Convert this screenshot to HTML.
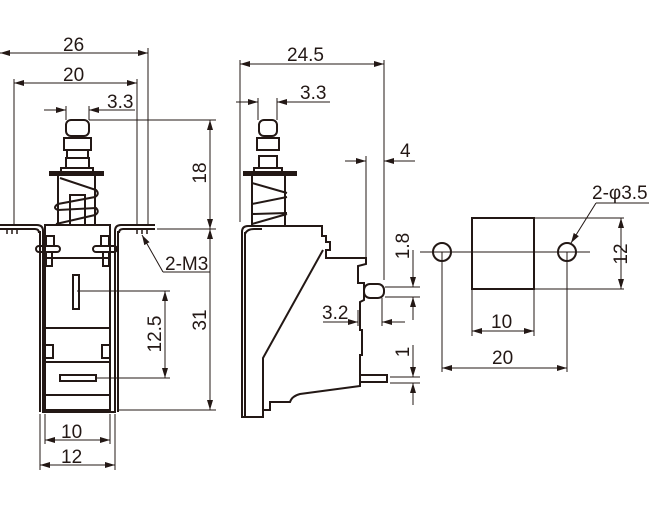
<!DOCTYPE html>
<html><head><meta charset="utf-8"><style>
html,body{margin:0;padding:0;background:#fff}
svg{display:block}
text{font-family:"Liberation Sans",Arial,sans-serif;font-size:19px;fill:#231815}
</style></head><body>
<svg width="649" height="517" viewBox="0 0 649 517" xmlns="http://www.w3.org/2000/svg">
<defs>
<marker id="a" viewBox="0 0 10 6" refX="10" refY="3" markerWidth="10" markerHeight="6" orient="auto-start-reverse" markerUnits="userSpaceOnUse"><path d="M0,0 L10,3 L0,6 z" fill="#231815"/></marker>
</defs>
<g stroke="#231815" fill="none">
<g stroke-width="1">
<line x1="0" y1="53" x2="148" y2="53" marker-end="url(#a)"/>
<line x1="0" y1="53" x2="20" y2="53" marker-start="url(#a)"/>
<line x1="148" y1="48" x2="148" y2="226"/>
<line x1="14" y1="83" x2="137" y2="83" marker-start="url(#a)" marker-end="url(#a)"/>
<line x1="14" y1="79" x2="14" y2="226"/>
<line x1="137" y1="79" x2="137" y2="226"/>
<line x1="44" y1="110" x2="66" y2="110" marker-end="url(#a)"/>
<line x1="89" y1="110" x2="135" y2="110" marker-start="url(#a)"/>
<line x1="66" y1="106" x2="66" y2="120"/>
<line x1="89" y1="106" x2="89" y2="120"/>
<line x1="89" y1="120" x2="216" y2="120"/>
<line x1="157" y1="229" x2="216" y2="229"/>
<line x1="117" y1="410" x2="216" y2="410"/>
<line x1="210" y1="120" x2="210" y2="229" marker-start="url(#a)" marker-end="url(#a)"/>
<line x1="210" y1="229" x2="210" y2="410" marker-start="url(#a)" marker-end="url(#a)"/>
<line x1="77" y1="291" x2="170" y2="291"/>
<line x1="95" y1="378" x2="170" y2="378"/>
<line x1="165" y1="291" x2="165" y2="378" marker-start="url(#a)" marker-end="url(#a)"/>
<line x1="142" y1="235" x2="163" y2="272" marker-start="url(#a)"/>
<line x1="163" y1="272" x2="210" y2="272"/>
<line x1="40" y1="414" x2="40" y2="470"/>
<line x1="45" y1="414" x2="45" y2="444"/>
<line x1="110" y1="414" x2="110" y2="444"/>
<line x1="115" y1="414" x2="115" y2="470"/>
<line x1="45" y1="440" x2="110" y2="440" marker-start="url(#a)" marker-end="url(#a)"/>
<line x1="40" y1="465" x2="115" y2="465" marker-start="url(#a)" marker-end="url(#a)"/>
</g>
<g stroke-width="2">
<rect x="66" y="120" width="23" height="16" rx="5"/>
<rect x="64" y="138" width="27" height="12"/>
<line x1="67" y1="150" x2="67" y2="158"/><line x1="88" y1="150" x2="88" y2="158"/>
<rect x="66" y="158" width="23" height="10"/>
<rect x="61" y="168" width="32" height="4"/>
<rect x="50" y="172" width="53" height="3" fill="#231815"/>
<line x1="58" y1="176" x2="58" y2="225"/><line x1="95" y1="176" x2="95" y2="225"/>
<rect x="70" y="195" width="15" height="30"/>
<path d="M60,178 L96,190 Q100,194 95,197 L58,204 Q52,208 58,210 L96,208 Q100,212 95,215 L56,224"/>
<path d="M0,225 L37,225 Q43,225 43,231 L43,412 L115,412 L115,231 Q115,225 121,225 L155,225"/>
<path d="M0,229 L35,229 Q39,229 39,233 M155,229 L123,229 Q119,229 119,233"/>
<line x1="40" y1="231" x2="40" y2="412"/>
<line x1="118" y1="231" x2="118" y2="412"/>
<rect x="45" y="225" width="65" height="185"/>
<line x1="45" y1="258" x2="110" y2="258"/>
<line x1="45" y1="328" x2="110" y2="328"/>
<line x1="45" y1="362" x2="110" y2="362"/>
<line x1="45" y1="395" x2="110" y2="395"/>
<rect x="36" y="246" width="24" height="6" rx="3"/>
<rect x="93" y="246" width="24" height="6" rx="3"/>
<rect x="46" y="236" width="8" height="10"/><rect x="101" y="236" width="8" height="10"/>
<rect x="46" y="252" width="6" height="14"/><rect x="103" y="252" width="6" height="14"/>
<rect x="73" y="275" width="6" height="34"/>
<rect x="45" y="345" width="8" height="13"/><rect x="102" y="345" width="8" height="13"/>
<rect x="60" y="375" width="36" height="6"/>
<line x1="60" y1="410" x2="92" y2="410"/>
<path d="M7,230 v4 M12,230 v4 M17,230 v4 M137,230 v4 M142,230 v4 M147,230 v4" stroke-width="1.5"/>
</g>
<g stroke-width="1">
<line x1="240" y1="64" x2="384" y2="64" marker-start="url(#a)" marker-end="url(#a)"/>
<line x1="240" y1="60" x2="240" y2="222"/>
<line x1="384" y1="60" x2="384" y2="280"/>
<line x1="236" y1="102" x2="258" y2="102" marker-end="url(#a)"/>
<line x1="277" y1="102" x2="330" y2="102" marker-start="url(#a)"/>
<line x1="258" y1="98" x2="258" y2="120"/>
<line x1="277" y1="98" x2="277" y2="120"/>
<line x1="345" y1="161" x2="366" y2="161" marker-end="url(#a)"/>
<line x1="384" y1="161" x2="415" y2="161" marker-start="url(#a)"/>
<line x1="366" y1="156" x2="366" y2="258"/>
<line x1="385" y1="287" x2="420" y2="287"/>
<line x1="385" y1="297" x2="420" y2="297"/>
<line x1="413" y1="250" x2="413" y2="287" marker-end="url(#a)"/>
<line x1="413" y1="297" x2="413" y2="320" marker-start="url(#a)"/>
<line x1="420" y1="252" x2="428" y2="252"/>
<line x1="323" y1="322" x2="358" y2="322" marker-end="url(#a)"/>
<line x1="382" y1="322" x2="405" y2="322" marker-start="url(#a)"/>
<line x1="358" y1="310" x2="358" y2="326"/>
<line x1="382" y1="298" x2="382" y2="326"/>
<line x1="390" y1="377" x2="420" y2="377"/>
<line x1="390" y1="383" x2="420" y2="383"/>
<line x1="413" y1="345" x2="413" y2="377" marker-end="url(#a)"/>
<line x1="413" y1="383" x2="413" y2="405" marker-start="url(#a)"/>
</g>
<g stroke-width="2">
<rect x="259" y="120" width="18" height="16" rx="5"/>
<rect x="257" y="138" width="22" height="12"/>
<rect x="259" y="156" width="18" height="12"/>
<rect x="254" y="168" width="28" height="4"/>
<rect x="244" y="172" width="52" height="3" fill="#231815"/>
<line x1="252" y1="176" x2="252" y2="225"/><line x1="285" y1="176" x2="285" y2="225"/>
<path d="M252,183 L287,193 M252,204 L287,197 M252,214 L287,213 M252,224 L287,214"/>
<path d="M242,417 L242,232 Q242,226 248,226 L322,226 L322,236 L326,236 L326,242 L330,242 L330,250 L326,250 L326,258 L366,258 L366,264 L358,266 L358,283 L364,283 L364,300 L360,302 L360,330 L362,330 L362,355 L360,355 L360,386 L300,394 Q292,396 290,402 L270,402 L270,410 L263,410 L263,417 Z"/>
<line x1="245" y1="232" x2="245" y2="417"/>
<path d="M245,234 Q247,229 254,229 L262,229"/>
<path d="M323,250 L263,358 L263,417"/>
<rect x="364" y="284" width="20" height="14" rx="6"/>
<rect x="360" y="375" width="27" height="7"/>
</g>
<g stroke-width="1">
<line x1="420" y1="252" x2="590" y2="252"/>
<line x1="442" y1="252" x2="442" y2="372"/>
<line x1="567" y1="252" x2="567" y2="372"/>
<line x1="442" y1="368" x2="567" y2="368" marker-start="url(#a)" marker-end="url(#a)"/>
<line x1="472" y1="289" x2="472" y2="336"/>
<line x1="534" y1="289" x2="534" y2="336"/>
<line x1="472" y1="331" x2="534" y2="331" marker-start="url(#a)" marker-end="url(#a)"/>
<line x1="534" y1="218" x2="624" y2="218"/>
<line x1="534" y1="289" x2="624" y2="289"/>
<line x1="621" y1="218" x2="621" y2="289" marker-start="url(#a)" marker-end="url(#a)"/>
<line x1="571" y1="243" x2="596" y2="203" marker-start="url(#a)"/>
<line x1="596" y1="203" x2="649" y2="203"/>
</g>
<g stroke-width="2">
<circle cx="442" cy="252" r="9"/>
<circle cx="567" cy="252" r="9"/>
<rect x="472" y="218" width="62" height="71"/>
</g>
</g>
<text x="63" y="51">26</text>
<text x="63" y="81">20</text>
<text x="107" y="108">3.3</text>
<text x="165" y="270">2-M3</text>
<text x="61" y="438">10</text>
<text x="61" y="463">12</text>
<text transform="translate(206,173) rotate(-90)" text-anchor="middle">18</text>
<text transform="translate(206,320) rotate(-90)" text-anchor="middle">31</text>
<text transform="translate(161,334) rotate(-90)" text-anchor="middle">12.5</text>
<text x="287" y="61">24.5</text>
<text x="300" y="99">3.3</text>
<text x="400" y="157">4</text>
<text transform="translate(409,246) rotate(-90)" text-anchor="middle">1.8</text>
<text x="322" y="319">3.2</text>
<text transform="translate(409,352) rotate(-90)" text-anchor="middle">1</text>
<text x="592" y="199">2-φ3.5</text>
<text transform="translate(627,254) rotate(-90)" text-anchor="middle">12</text>
<text x="491" y="328">10</text>
<text x="492" y="364">20</text>
</svg>
</body></html>
